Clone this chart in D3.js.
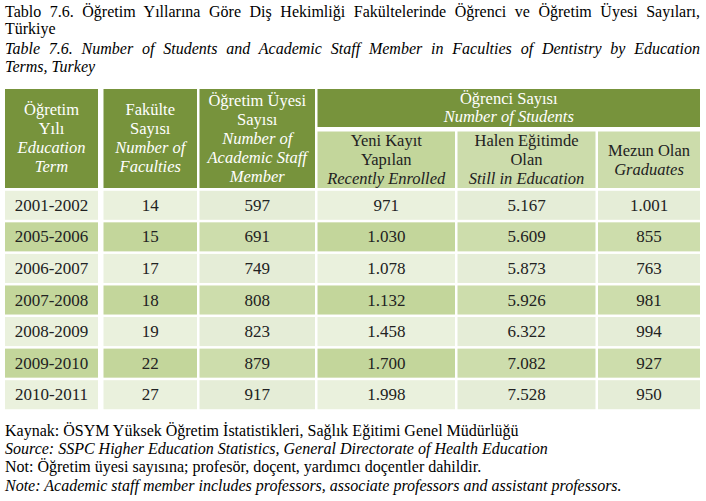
<!DOCTYPE html>
<html>
<head>
<meta charset="utf-8">
<script src="https://cdn.jsdelivr.net/npm/d3@7"></script>
</head>
<body style="margin:0">
<svg width="706" height="501"></svg>
<script>
// table values
var terms = ["2001-2002", "2005-2006", "2006-2007", "2007-2008", "2008-2009", "2009-2010", "2010-2011"];
var faculties = [14, 15, 17, 18, 19, 22, 27];
var staff = [597, 691, 749, 808, 823, 879, 917];
var enrolled = [971, 1030, 1078, 1132, 1458, 1700, 1998];
var inEducation = [5167, 5609, 5873, 5926, 6322, 7082, 7528];
var graduates = [1001, 855, 763, 981, 994, 927, 950];

var titleLines = [
  {t: "Tablo 7.6. Öğretim Yıllarına Göre Diş Hekimliği Fakültelerinde Öğrenci ve Öğretim Üyesi Sayıları,", it: false, just: true, y: 17},
  {t: "Türkiye", it: false, just: false, y: 34},
  {t: "Table 7.6. Number of Students and Academic Staff Member in Faculties of Dentistry by Education", it: true, just: true, y: 54},
  {t: "Terms, Turkey", it: true, just: false, y: 72}
];
var footLines = [
  {t: "Kaynak: ÖSYM Yüksek Öğretim İstatistikleri, Sağlık Eğitimi Genel Müdürlüğü", it: false, y: 436},
  {t: "Source: SSPC Higher Education Statistics, General Directorate of Health Education", it: true, y: 454},
  {t: "Not: Öğretim üyesi sayısına; profesör, doçent, yardımcı doçentler dahildir.", it: false, y: 472},
  {t: "Note: Academic staff member includes professors, associate professors and assistant professors.", it: true, y: 491}
];

// header labels: [text, italic?]
var headers = [
  {key: "term", lines: [["Öğretim", 0], ["Yılı", 0], ["Education", 1], ["Term", 1]]},
  {key: "fac", lines: [["Fakülte", 0], ["Sayısı", 0], ["Number of", 1], ["Faculties", 1]]},
  {key: "staff", lines: [["Öğretim Üyesi", 0], ["Sayısı", 0], ["Number of", 1], ["Academic Staff", 1], ["Member", 1]]},
  {key: "enr", lines: [["Yeni Kayıt", 0], ["Yapılan", 0], ["Recently Enrolled", 1]]},
  {key: "edu", lines: [["Halen Eğitimde", 0], ["Olan", 0], ["Still in Education", 1]]},
  {key: "grad", lines: [["Mezun Olan", 0], ["Graduates", 1]]}
];
var groupLines = [["Öğrenci Sayısı", 0], ["Number of Students", 1]];

var svg = d3.select("svg");
var left = 5, right = 700;

var tr = d3.formatLocale({decimal: ",", thousands: ".", grouping: [3], currency: ["", ""]});
var fmt = tr.format(",d");

// column geometry
var colX0 = d3.scaleOrdinal().domain(headers.map(function(d) { return d.key; }))
    .range([5, 103.5, 199.5, 317.5, 457.5, 598]);
var colX1 = d3.scaleOrdinal().domain(headers.map(function(d) { return d.key; }))
    .range([98, 197, 315, 455, 595.5, 700]);
// slight tint difference between columns in the original
var tintAlt = {term: false, fac: false, staff: true, enr: false, edu: true, grad: true};

var y = d3.scaleBand().domain(terms).range([189.5, 410.5]).paddingInner(0.08).paddingOuter(0.04);

var headTop = 89, headBot = 188, groupBot = 127, subTop = 131.5;
var dark = "#77933C";

// every text gets the serif face the same way as the working font test
function label(parent, size) {
  return parent.append("text")
    .style("font-family", "'Liberation Serif'")
    .style("font-size", size + "px");
}

var rows = terms.map(function(t, i) {
  return {term: t, fac: faculties[i], staff: staff[i], enr: enrolled[i], edu: inEducation[i], grad: graduates[i], i: i};
});

// header cells
var hg = svg.append("g");
headers.forEach(function(h, i) {
  var x0 = colX0(h.key), x1 = colX1(h.key);
  if (i < 3) {
    hg.append("rect").attr("x", x0).attr("y", headTop).attr("width", x1 - x0).attr("height", headBot - headTop).attr("fill", dark);
  } else {
    hg.append("rect").attr("x", x0).attr("y", subTop).attr("width", x1 - x0).attr("height", headBot - subTop)
      .attr("fill", tintAlt[h.key] ? "#CCDCAB" : "#C3D69B");
  }
});
hg.append("rect").attr("x", colX0("enr")).attr("y", headTop)
  .attr("width", colX1("grad") - colX0("enr")).attr("height", groupBot - headTop).attr("fill", dark);

// body cells
var body = svg.append("g");
headers.forEach(function(h) {
  body.selectAll("rect.c-" + h.key).data(rows).join("rect")
    .attr("class", "c-" + h.key)
    .attr("x", colX0(h.key))
    .attr("y", function(d) { return y(d.term); })
    .attr("width", colX1(h.key) - colX0(h.key))
    .attr("height", y.bandwidth())
    .attr("fill", function(d) {
      if (d.i % 2 === 0) return tintAlt[h.key] ? "#E5EDD7" : "#EAF1DD";
      return tintAlt[h.key] ? "#CDDDAC" : "#C3D69B";
    });
});

// all texts after the shapes
function multiLine(lines, cx, cy, color, step) {
  var n = lines.length;
  lines.forEach(function(l, k) {
    var t = label(svg, 16.5)
      .attr("x", cx)
      .attr("y", cy + (k - (n - 1) / 2) * step + 5)
      .attr("text-anchor", "middle")
      .style("fill", color)
      .text(l[0]);
    if (l[1]) t.style("font-style", "italic");
  });
}
headers.forEach(function(h, i) {
  var x0 = colX0(h.key), x1 = colX1(h.key);
  if (i < 3) multiLine(h.lines, (x0 + x1) / 2, (headTop + headBot) / 2, "#fff", 19);
  else multiLine(h.lines, (x0 + x1) / 2, (subTop + headBot) / 2 + 0.5, "#222", 19);
});
multiLine(groupLines, (colX0("enr") + colX1("grad")) / 2, (headTop + groupBot) / 2, "#fff", 18);

headers.forEach(function(h) {
  rows.forEach(function(d) {
    label(svg, 17)
      .attr("x", (colX0(h.key) + colX1(h.key)) / 2)
      .attr("y", y(d.term) + y.bandwidth() / 2 + 5.5)
      .attr("text-anchor", "middle")
      .style("fill", "#222")
      .text(h.key === "term" ? d.term : fmt(d[h.key]));
  });
});

[titleLines, footLines].forEach(function(lines) {
  lines.forEach(function(l) {
    var t = label(svg, 16).attr("x", left).attr("y", l.y).text(l.t);
    if (l.it) t.style("font-style", "italic");
    if (l.just) {
      var w = t.node().getComputedTextLength();
      var gaps = l.t.split(" ").length - 1;
      t.attr("word-spacing", ((right - left) - w) / gaps);
    }
  });
});
</script>
</body>
</html>
